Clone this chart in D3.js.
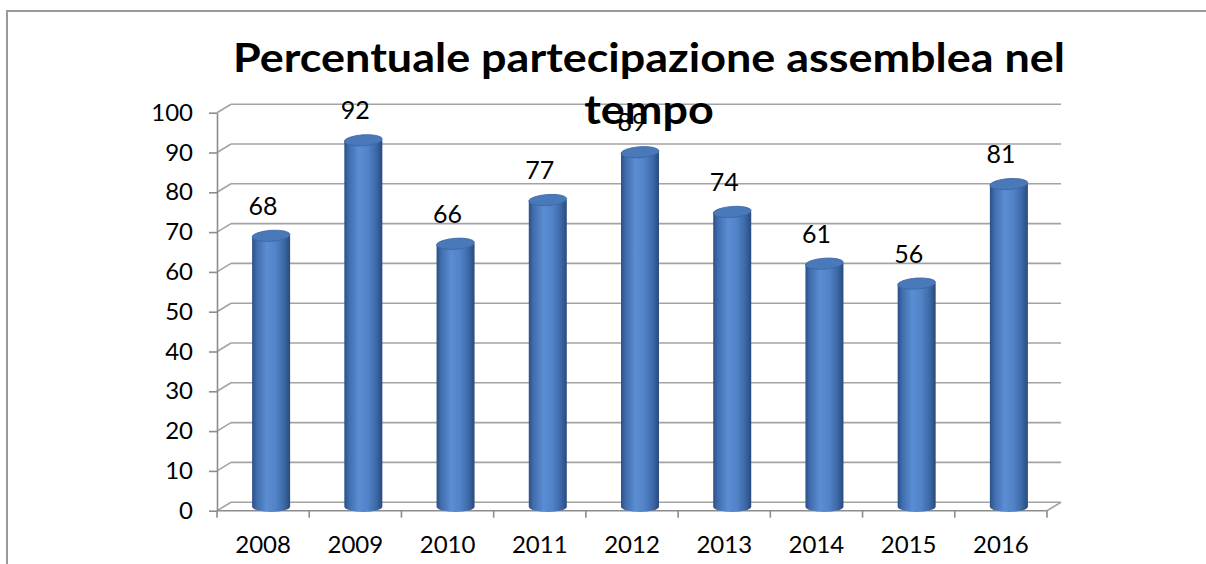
<!DOCTYPE html>
<html>
<head>
<meta charset="utf-8">
<script src="https://cdn.jsdelivr.net/npm/d3@7"></script>
<style>
  html, body { margin: 0; padding: 0; background: #fff; }
  text { font-family: Lato, "Noto Sans", sans-serif; fill: #000; }
</style>
</head>
<body>
<svg id="chart" width="1206" height="564"></svg>
<script>
// data
const years  = ["2008", "2009", "2010", "2011", "2012", "2013", "2014", "2015", "2016"]
const values = [68, 92, 66, 77, 89, 74, 61, 56, 81]
const yTicks = [0, 10, 20, 30, 40, 50, 60, 70, 80, 90, 100]
const titleLines = ["Percentuale partecipazione assemblea nel", "tempo"]

const svg = d3.select("#chart")

// 3d depth offset of the back wall
const dx = 14, dy = -8.5

const x = d3.scaleBand().domain(years).range([217, 1047])
const y = d3.scaleLinear().domain([0, 100]).range([510.7, 112.7])

// outer frame (only top and left edges visible)
svg.append("path")
	.attr("d", "M7,564 L7,11 L1206,11")
	.style("fill", "none")
	.style("stroke", "#9a9a9a")
	.style("stroke-width", 2)

const defs = svg.append("defs")
let grad = defs.append("linearGradient").attr("id", "cyl")
	.attr("x1", "0%").attr("x2", "100%").attr("y1", "0%").attr("y2", "0%")
grad.selectAll("stop")
	.data([["0%", "#2b4f86"], ["12%", "#3f6dad"], ["38%", "#5b8dd2"], ["62%", "#5283c8"], ["85%", "#3b67a5"], ["100%", "#284a7e"]])
	.join("stop")
	.attr("offset", d => d[0])
	.attr("stop-color", d => d[1])

// gridlines on back wall + diagonal lines on side wall
const grid = svg.append("g")
grid.selectAll("line.back")
	.data(yTicks)
	.join("line")
	.attr("class", "back")
	.attr("x1", 217 + dx).attr("x2", 1047 + dx)
	.attr("y1", d => y(d) + dy).attr("y2", d => y(d) + dy)
	.style("stroke", "#a3a3a3").style("stroke-width", 1.6)
grid.selectAll("line.side")
	.data(yTicks)
	.join("line")
	.attr("class", "side")
	.attr("x1", 217).attr("x2", 217 + dx)
	.attr("y1", d => y(d)).attr("y2", d => y(d) + dy)
	.style("stroke", "#a3a3a3").style("stroke-width", 1.6)

// floor right edge
grid.append("line")
	.attr("x1", 1047).attr("x2", 1047 + dx)
	.attr("y1", y(0)).attr("y2", y(0) + dy)
	.style("stroke", "#a3a3a3").style("stroke-width", 1.6)

// y axis
const yAxis = d3.axisLeft(y).tickValues(yTicks).tickSize(8).tickSizeOuter(0).tickPadding(16)
svg.append("g")
	.attr("transform", "translate(217,0)")
	.call(yAxis)
	.call(g => g.selectAll("path, line").style("stroke", "#8c8c8c").style("stroke-width", 1.6))
	.call(g => g.selectAll("text").style("font-size", "24px").style("font-family", "Lato, sans-serif").attr("fill", "#000"))

// x axis: labels from band axis, ticks at category boundaries
const xAxis = d3.axisBottom(x).tickSize(0).tickPadding(25)
svg.append("g")
	.attr("transform", "translate(0," + y(0) + ")")
	.call(xAxis)
	.call(g => g.select(".domain").remove())
	.call(g => g.selectAll("text").style("font-size", "24px").style("font-family", "Lato, sans-serif").attr("fill", "#000"))

svg.append("line")
	.attr("x1", 217).attr("x2", 1047)
	.attr("y1", y(0)).attr("y2", y(0))
	.style("stroke", "#8c8c8c").style("stroke-width", 1.6)
svg.selectAll("line.xtick")
	.data(years.concat([null]))
	.join("line")
	.attr("class", "xtick")
	.attr("x1", (d, i) => x.range()[0] + i * x.step())
	.attr("x2", (d, i) => x.range()[0] + i * x.step())
	.attr("y1", y(0)).attr("y2", y(0) + 7)
	.style("stroke", "#8c8c8c").style("stroke-width", 1.6)

// cylinders
const r = 19, ry = 5.5
const bars = svg.append("g")
	.selectAll("g")
	.data(values)
	.join("g")

bars.each(function (v, i) {
	let g = d3.select(this)
	let cx = x(years[i]) + x.bandwidth() / 2 + dx / 2 + 1
	let yt = y(v) + dy / 2
	let yb = y(0) + dy / 2
	g.append("path")
		.attr("d", "M" + (cx - r) + "," + yt + " L" + (cx - r) + "," + yb +
			" A" + r + "," + ry + " 0 0 0 " + (cx + r) + "," + yb +
			" L" + (cx + r) + "," + yt + " Z")
		.style("fill", "url(#cyl)")
	g.append("ellipse")
		.attr("cx", cx).attr("cy", yt)
		.attr("rx", r).attr("ry", ry)
		.attr("transform", "rotate(-4," + cx + "," + yt + ")")
		.style("fill", "#4a79ba")
		.style("stroke", "#3a66a3")
		.style("stroke-width", 0.8)
})

// data labels
svg.append("g")
	.selectAll("text")
	.data(values)
	.join("text")
	.attr("x", (d, i) => x(years[i]) + x.bandwidth() / 2)
	.attr("y", d => y(d) - 34)
	.attr("dy", "0.35em")
	.attr("text-anchor", "middle")
	.style("font-size", "25px")
	.text(d => d)

// title, stretched so the first line spans the same width as the original
let title = svg.append("g")
	.selectAll("text")
	.data(titleLines)
	.join("text")
	.attr("x", 649)
	.attr("y", (d, i) => 72 + i * 52)
	.attr("text-anchor", "middle")
	.style("font-size", "40px")
	.style("font-weight", "bold")
	.text(d => d)

let k = 832 / title.nodes()[0].getComputedTextLength()
title.each(function () {
	let w = this.getComputedTextLength()
	d3.select(this).attr("textLength", w * k).attr("lengthAdjust", "spacingAndGlyphs")
})
</script>
</body>
</html>
